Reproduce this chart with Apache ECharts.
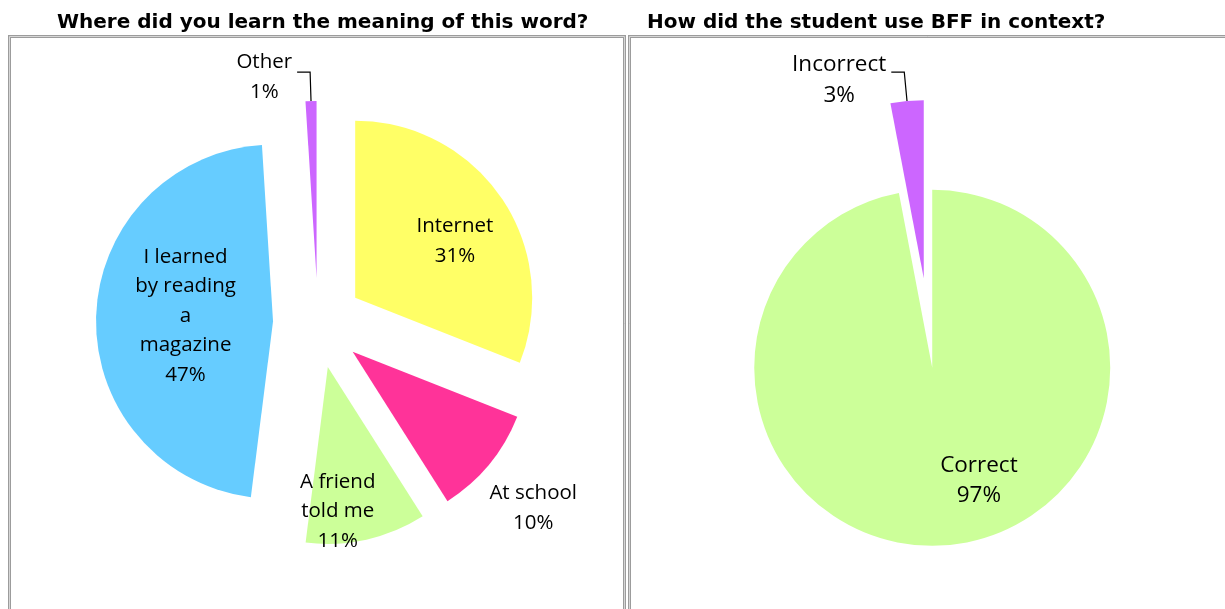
<!DOCTYPE html>
<html>
<head>
<meta charset="utf-8">
<script src="https://cdn.jsdelivr.net/npm/echarts@6/dist/echarts.min.js"></script>
<style>
  html, body { margin: 0; padding: 0; background: #fff; }
  #chart { width: 1225px; height: 609px; }
</style>
</head>
<body>
<div id="chart"></div>
<script>
// Survey answers: where the word was learned
const sourceCategories = ['Internet', 'At school', 'A friend told me', 'I learned by reading a magazine', 'Other'];
const sourceValues = [31, 10, 11, 47, 1];
const sourceColors = ['#FFFF66', '#FF3399', '#CCFF99', '#66CCFF', '#CC66FF'];

// Survey answers: how BFF was used in context
const usageCategories = ['Correct', 'Incorrect'];
const usageValues = [97, 3];
const usageColors = ['#CCFF99', '#CC66FF'];

const chartTitles = ['Where did you learn the meaning of this word?', 'How did the student use BFF in context?'];

// Line breaks for the longer category names
const wrappedNames = {
  'A friend told me': 'A friend\ntold me',
  'I learned by reading a magazine': 'I learned\nby reading\na\nmagazine'
};

// Label placement per slice: nudges from the default label spot
const sourcePlacement = [
  { position: 'inside', dx: 24, dy: -5 },
  { position: 'inside', dx: 110, dy: 98 },
  { position: 'inside', dx: -10, dy: 55 },
  { position: 'inside', dx: 4, dy: -3 },
  { position: 'outside', dx: 0, dy: 5 }
];
const usagePlacement = [
  { position: 'inside', dx: 38, dy: 21 },
  { position: 'outside', dx: 0, dy: 8 }
];

function labelText(p) {
  return (wrappedNames[p.name] || p.name) + '\n' + p.value + '%';
}

function buildData(cats, vals, colors, placement) {
  return cats.map(function (c, i) {
    return {
      name: c,
      value: vals[i],
      selected: true,
      itemStyle: { color: colors[i] },
      select: { itemStyle: { color: colors[i] } },
      label: { position: placement[i].position }
    };
  });
}

function layoutFor(placement) {
  return function (params) {
    const p = placement[params.dataIndex];
    if (p.position === 'outside') {
      // keep the block where it is but center its lines
      return { align: 'center', dx: -params.labelRect.width / 2 + p.dx, dy: p.dy };
    }
    return { dx: p.dx, dy: p.dy };
  };
}

function pieSeries(center, radius, data, placement, fontSize, lineHeight) {
  return {
    type: 'pie',
    center: center,
    radius: radius,
    startAngle: 90,
    clockwise: true,
    selectedMode: 'multiple',
    selectedOffset: 45,
    avoidLabelOverlap: false,
    animation: false,
    emphasis: { disabled: true },
    itemStyle: { borderWidth: 0 },
    label: {
      show: true,
      color: '#000',
      fontFamily: 'Open Sans',
      fontSize: fontSize,
      lineHeight: lineHeight,
      formatter: labelText
    },
    labelLine: {
      show: true,
      length: 29,
      length2: 13,
      lineStyle: { color: '#000', width: 1.2 }
    },
    labelLayout: layoutFor(placement),
    data: data
  };
}

const titleStyle = { fontFamily: 'DejaVu Sans', fontWeight: 'bold', fontSize: 20, color: '#000' };

const frameStyleOuter = { fill: null, stroke: '#9c9c9c', lineWidth: 3 };
const frameStyleInner = { fill: null, stroke: '#d6d6d6', lineWidth: 1 };

const chart = echarts.init(document.getElementById('chart'), null, { renderer: 'canvas' });
chart.setOption({
  backgroundColor: '#fff',
  animation: false,
  title: [
    { text: chartTitles[0], left: 57, top: 13, padding: 0, textStyle: titleStyle },
    { text: chartTitles[1], left: 647, top: 13, padding: 0, textStyle: titleStyle }
  ],
  graphic: [
    { type: 'rect', silent: true, shape: { x: 9.5, y: 36.5, width: 615, height: 620 }, style: frameStyleOuter },
    { type: 'rect', silent: true, shape: { x: 9.5, y: 36.5, width: 615, height: 620 }, style: frameStyleInner },
    { type: 'rect', silent: true, shape: { x: 629.5, y: 36.5, width: 640, height: 620 }, style: frameStyleOuter },
    { type: 'rect', silent: true, shape: { x: 629.5, y: 36.5, width: 640, height: 620 }, style: frameStyleInner }
  ],
  series: [
    pieSeries([318, 323], 177, buildData(sourceCategories, sourceValues, sourceColors, sourcePlacement), sourcePlacement, 20.5, 29.5),
    pieSeries([928, 323], 178, buildData(usageCategories, usageValues, usageColors, usagePlacement), usagePlacement, 22.5, 30.5)
  ]
});
</script>
</body>
</html>
